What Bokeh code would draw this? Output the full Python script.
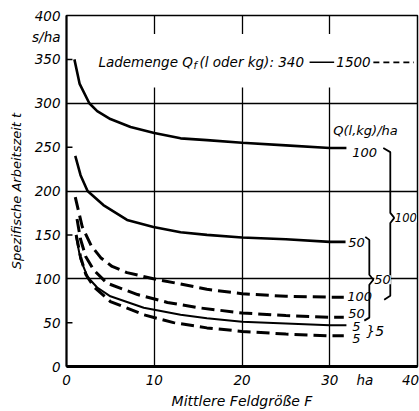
from bokeh.plotting import figure
from bokeh.models import FixedTicker, Label, Range1d, BoxAnnotation
from bokeh.embed import file_html
from bokeh.resources import INLINE

# ---- data ----
# Q_f = 340 (solid lines)
x_s100 = [0.9, 1.5, 2.6, 3.5, 5.0, 7.3, 10.0, 13.0, 16.0, 20.0, 25.0, 30.0, 31.9]
y_s100 = [350, 322, 300, 291, 282, 273, 266, 260, 258, 255, 252, 249, 249]
x_s50 = [1.0, 1.6, 2.4, 4.2, 6.9, 9.9, 13.0, 16.0, 20.0, 25.0, 30.0, 31.8]
y_s50 = [240, 218, 200, 184, 167, 159, 153, 150, 147, 145, 142, 142]
x_s5 = [1.1, 1.6, 2.4, 3.5, 5.0, 8.8, 13.0, 16.0, 20.0, 25.0, 30.0, 31.9]
y_s5 = [148, 122, 102, 90, 80, 67, 59, 55, 51, 49, 47, 47]
# Q_f = 1500 (dashed lines)
x_d100 = [1.0, 1.8, 2.8, 3.9, 5.2, 6.9, 9.9, 13.0, 16.0, 20.0, 25.0, 30.0, 31.6]
y_d100 = [193, 159, 138, 124, 114, 107, 100, 94, 88, 83, 80, 79, 79]
x_d50 = [1.2, 1.6, 2.2, 3.1, 4.6, 8.1, 11.5, 15.0, 20.0, 25.0, 30.0, 31.6]
y_d50 = [168, 145, 125, 110, 95, 82, 73, 67, 61, 58, 56, 56]
x_d5 = [1.1, 1.6, 2.2, 3.1, 5.0, 8.8, 12.2, 16.0, 20.0, 25.0, 30.0, 31.6]
y_d5 = [150, 125, 105, 91, 74, 59, 50, 44, 40, 37, 35, 35]

x_ticks = [0, 10, 20, 30, 34.0, 39.2]
x_tick_text = {34.0: "ha", 39.2: "40"}
y_ticks = [0, 50, 100, 150, 200, 250, 300, 350, 375, 400]
y_tick_text = {375: "s/ha"}
y_small_ticks = [50, 150, 250, 350]
x_grid = [10, 20, 30]
y_grid = [100, 200, 300]

FONT = "DejaVu Sans"

p = figure(width=419, height=411, output_backend="svg", toolbar_location=None,
           x_range=Range1d(0, 40), y_range=Range1d(0, 400),
           min_border_left=66, min_border_right=2, min_border_top=15,
           min_border_bottom=44)
p.background_fill_color = "white"
p.border_fill_color = "white"
p.outline_line_color = "black"
p.outline_line_width = 1.5

# grid
p.xgrid.ticker = FixedTicker(ticks=x_grid)
p.ygrid.ticker = FixedTicker(ticks=y_grid)
for g in (p.xgrid, p.ygrid):
    g.grid_line_color = "black"
    g.grid_line_width = 1.3
    g.grid_line_alpha = 1.0

# axes
p.xaxis.ticker = FixedTicker(ticks=x_ticks)
p.xaxis.major_label_overrides = x_tick_text
p.yaxis.ticker = FixedTicker(ticks=y_ticks)
p.yaxis.major_label_overrides = y_tick_text
p.xaxis.major_tick_in = 0
p.xaxis.major_tick_out = 0
p.yaxis.major_tick_in = 0
p.yaxis.major_tick_out = 3
p.xaxis.major_tick_line_color = None
p.yaxis.major_tick_line_color = None
p.xaxis.minor_tick_line_color = None
p.yaxis.minor_tick_line_color = None
p.xaxis.axis_line_width = 3
p.yaxis.axis_line_width = 2
for ax in (p.xaxis, p.yaxis):
    ax.axis_line_color = "black"
    ax.major_label_text_font = FONT
    ax.major_label_text_font_style = "italic"
    ax.major_label_text_font_size = "13.5px"
    ax.major_label_text_color = "black"
    ax.axis_label_text_font = FONT
    ax.axis_label_text_font_style = "italic"
    ax.axis_label_text_color = "black"
p.xaxis.major_label_standoff = 5
p.yaxis.major_label_standoff = 3
p.yaxis.axis_label = "Spezifische Arbeitszeit t"
p.yaxis.axis_label_text_font_size = "13px"
p.yaxis.axis_label_standoff = 5
p.xaxis.axis_label = "Mittlere Feldgröße F"
p.xaxis.axis_label_text_font_size = "14px"
p.xaxis.axis_label_standoff = 2

# short inner tick marks on the y axis
p.segment(x0=[0] * len(y_small_ticks), y0=y_small_ticks,
          x1=[0.68] * len(y_small_ticks), y1=y_small_ticks,
          line_color="black", line_width=1.5)

# white area behind the legend line (grid lines are broken there)
p.add_layout(BoxAnnotation(left=3.3, right=39.8, bottom=318, top=379,
                           fill_color="white", fill_alpha=1.0, line_alpha=0,
                           level="underlay"))

# curves
p.line(x_s100, y_s100, line_color="black", line_width=2.6)
p.line(x_s50, y_s50, line_color="black", line_width=2.6)
p.line(x_s5, y_s5, line_color="black", line_width=2.0)
p.line(x_d100, y_d100, line_color="black", line_width=3, line_dash="13 6")
p.line(x_d50, y_d50, line_color="black", line_width=3, line_dash="13 6")
p.line(x_d5, y_d5, line_color="black", line_width=3, line_dash="13 6")


def lab(x, y, text, size="13px", align="left", style="italic", bg=None, **kw):
    l = Label(x=x, y=y, text=text, text_font=FONT, text_font_size=size,
              text_font_style=style, text_align=align, text_baseline="middle",
              text_color="black", **kw)
    if bg:
        l.background_fill_color = bg
    p.add_layout(l)


# legend line
lab(3.64, 346.6, "Lademenge Q", size="13.5px")
lab(14.46, 342.5, "f", size="10px")
lab(15.15, 346.6, "(l oder kg): 340", size="13.5px")
p.line([27.7, 30.5], [346.6, 346.6], line_color="black", line_width=1.5)
lab(30.75, 346.6, "1500", size="13.5px")
p.line([34.97, 39.6], [346.6, 346.6], line_color="black", line_width=1.8,
       line_dash="6 4")

# curve labels
lab(30.4, 269, "Q(l,kg)/ha", size="13px")
lab(32.57, 244, "100", size="13px")
lab(32.12, 141, "50", size="13px")
lab(32.0, 79.5, "100", size="13px")
lab(32.12, 60.2, "50", size="13px")
lab(32.57, 45.5, "5", size="13px")
lab(32.57, 31.8, "5", size="13px")
lab(34.17, 40.5, "}5", size="14px")

# brackets
p.line([36.1, 36.9, 36.9, 37.36, 36.9, 36.9, 36.2],
       [248.9, 244.3, 175.0, 169.3, 163.6, 80.7, 76.1],
       line_color="black", line_width=1.8)
lab(37.42, 169.3, "100", size="11.5px", bg="white")
p.line([34.05, 34.51, 34.51, 34.97, 34.51, 34.51, 33.94],
       [147.7, 144.3, 104.5, 98.9, 93.2, 55.7, 52.3],
       line_color="black", line_width=1.8)
lab(35.08, 98.9, "50", size="13px", bg="white")

open("out.html", "w").write(file_html(p, INLINE))
